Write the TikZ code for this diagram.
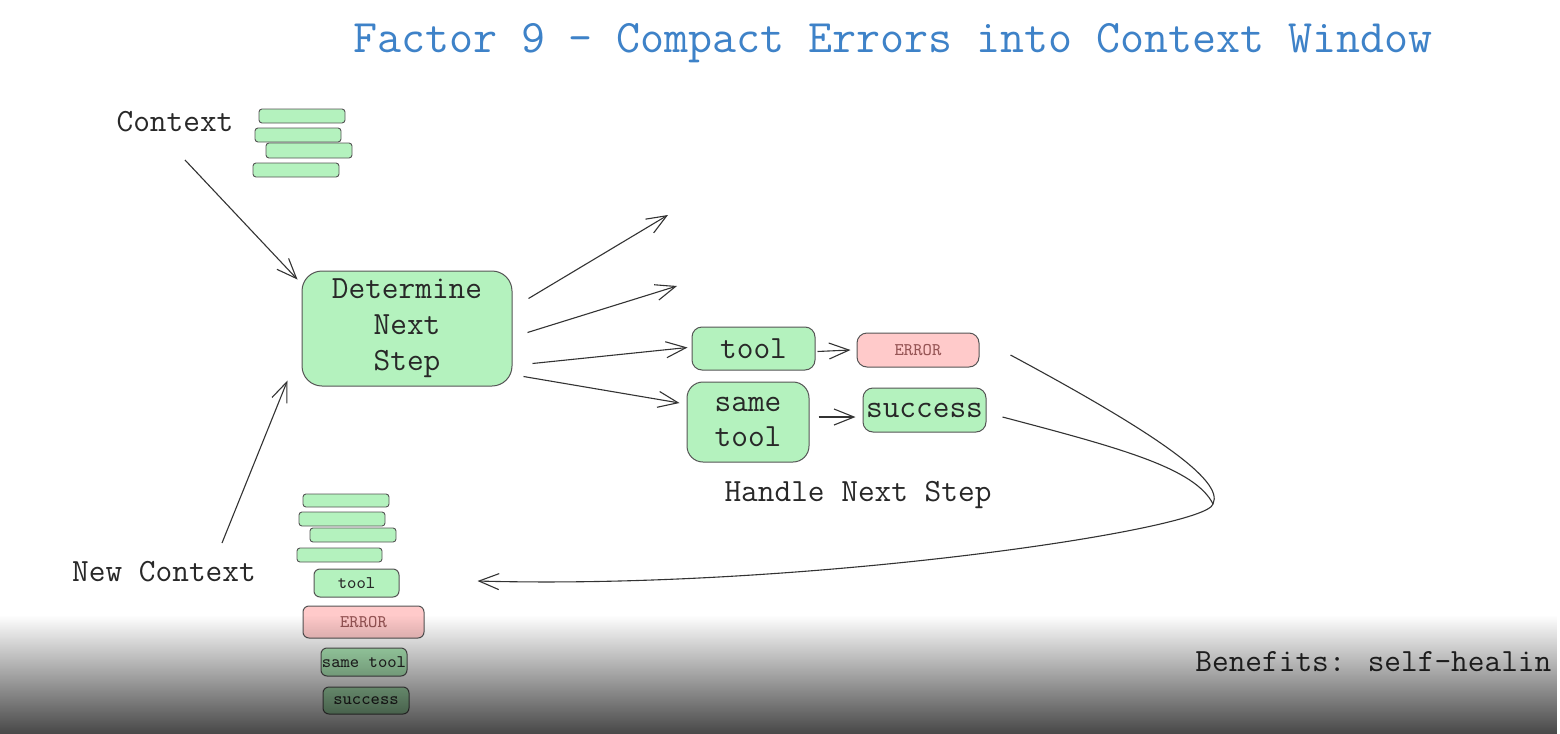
\documentclass[tikz,border=0pt]{standalone}
\usepackage{tikz}
\usetikzlibrary{arrows.meta,fadings}
\definecolor{ttlblue}{RGB}{62,130,200}
\definecolor{gfill}{RGB}{180,242,190}
\definecolor{rfill}{RGB}{255,202,202}
\definecolor{edge}{RGB}{85,85,85}
\definecolor{ink}{RGB}{40,40,40}
\definecolor{errink}{RGB}{150,85,85}

\begin{document}
\begin{tikzpicture}[x=0.5pt,y=-0.5pt,
  arr/.style={-{Straight Barb[length=10pt,width=8pt]},line width=.55pt,black!80},
  gbox/.style={draw=edge,fill=gfill,line width=.5pt,rounded corners=5pt,inner sep=0pt,text=ink,font=\ttfamily\fontsize{16.2}{18}\selectfont,align=center},
  rbox/.style={gbox,fill=rfill,text=errink,font=\ttfamily\fontsize{8.9}{10}\selectfont},
  bar/.style={draw=edge,fill=gfill,line width=.45pt,rounded corners=1.5pt,minimum width=43pt,minimum height=7pt,inner sep=0pt},
  sbox/.style={gbox,rounded corners=3pt,font=\ttfamily\fontsize{8.9}{10}\selectfont},
  lab/.style={text=ink,font=\ttfamily\fontsize{16.2}{18}\selectfont}]
\useasboundingbox (0,0) rectangle (1560,734);
\fill[white] (0,0) rectangle (1560,734);
\node[text=ttlblue,font=\ttfamily\fontsize{23.3}{26}\selectfont] (title) at (893,43) {Factor 9 - Compact Errors into Context Window};

% old context
\node[lab] (ctxlab) at (175,122) {Context};
\node[bar] (c1) at (302,116) {};
\node[bar] (c2) at (298,135) {};
\node[bar,minimum height=7.5pt] (c3) at (309,150.5) {};
\node[bar] (c4) at (296,170) {};

% decide + handle
\node[gbox,rounded corners=10pt,minimum width=105pt,minimum height=57.5pt] (det) at (407,328.5) {Determine\\Next\\Step};
\node[gbox,minimum width=61.5pt,minimum height=21.5pt] (tool) at (753.5,348.5) {tool};
\node[rbox,minimum width=61pt,minimum height=17pt] (err) at (918,350) {ERROR};
\node[gbox,rounded corners=8pt,minimum width=61pt,minimum height=40pt,font=\ttfamily\fontsize{16.2}{17.5}\selectfont] (same) at (748,422) {same\\tool};
\node[gbox,minimum width=61.5pt,minimum height=22pt] (succ) at (924.5,410) {success};
\node[lab] (handle) at (858,495) {Handle Next Step};
\coordinate (o1) at (668,215);
\coordinate (o2) at (677,286);

% new context
\node[lab] (newlab) at (164,572) {New Context};
\node[bar,minimum height=6.5pt] (n1) at (346,500.5) {};
\node[bar] (n2) at (342,519) {};
\node[bar] (n3) at (353,535) {};
\node[bar,minimum width=42.5pt] (n4) at (339.5,555) {};
\node[sbox,minimum width=42.5pt,minimum height=14pt] (ntool) at (356.5,583) {tool};
\node[sbox,fill=rfill,text=errink,minimum width=60.5pt,minimum height=16pt] (nerr) at (363.5,622) {ERROR};
\node[sbox,minimum width=43pt,minimum height=14pt] (nsame) at (364,662) {same tool};
\node[sbox,minimum width=43pt,minimum height=13.5pt] (nsucc) at (366,700.5) {success};

\node[lab,anchor=west,inner sep=0pt] (benefit) at (1195,662) {Benefits: self-healin};

\draw[arr] ([shift={(10,38)}]ctxlab.center) -- ([shift={(-4,9)}]det.north west);
\draw[arr] ([shift={(58,-29)}]newlab.center) -- ([shift={(-14,-6)}]det.south west);
\draw[arr] ([shift={(16,-30)}]det.east) -- (o1);
\draw[arr] ([shift={(15,4)}]det.east) -- (o2);
\draw[arr] ([shift={(20,35)}]det.east) -- ([shift={(-4,-1)}]tool.west);
\draw[arr] ([shift={(11,48)}]det.east) -- ([shift={(-7,-19)}]same.west);
\draw[arr] ([shift={(2,3)}]tool.east) -- ([shift={(-6,0)}]err.west);
\draw[arr] ([shift={(9,-5)}]same.east) -- ([shift={(-7,7)}]succ.west);

% back into the context
\coordinate (tip) at (1213,504);
\draw[line width=.55pt,black!80] ([shift={(16,7)}]succ.east) .. controls (1120,448) and (1195,468) .. (tip);
\draw[arr] ([shift={(31,5)}]err.east) .. controls (1150,430) and (1225,480) .. (tip)
  .. controls (1207,530) and (800,590) .. ([shift={(78,-2)}]ntool.east);

% player shade
\fill[black,opacity=.72,path fading=north] (0,615) rectangle (1560,734);
\end{tikzpicture}
\end{document}
